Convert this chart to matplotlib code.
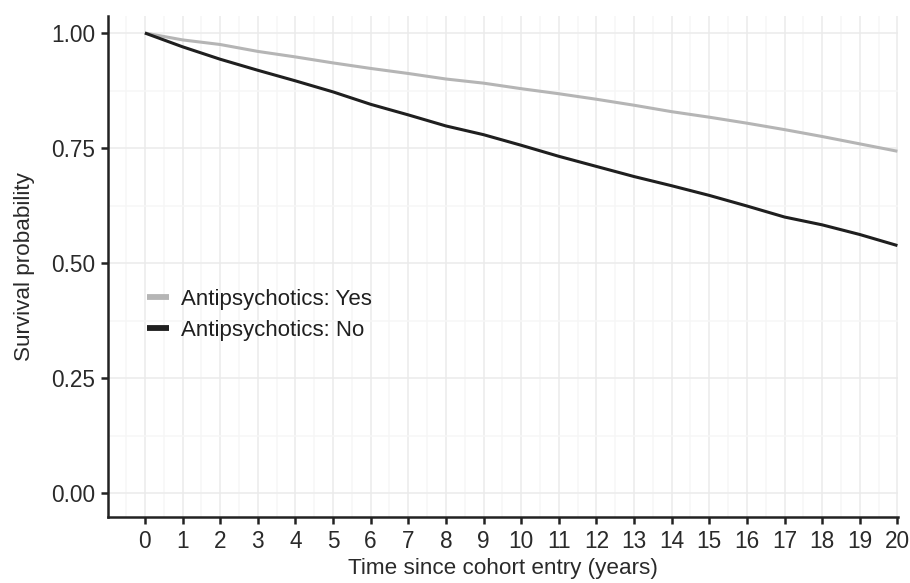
import numpy as np
import matplotlib
matplotlib.use('Agg')
import matplotlib.pyplot as plt
from matplotlib.ticker import MultipleLocator

# Survival estimates, one per year
years = [0, 1, 2, 3, 4, 5, 6, 7, 8, 9, 10, 11, 12, 13, 14, 15, 16, 17, 18, 19, 20]
surv_yes = [1.000, 0.985, 0.975, 0.960, 0.948, 0.935, 0.923, 0.912, 0.900, 0.891,
            0.879, 0.868, 0.856, 0.843, 0.829, 0.817, 0.804, 0.790, 0.775, 0.759, 0.743]
surv_no = [1.000, 0.970, 0.943, 0.919, 0.896, 0.872, 0.845, 0.822, 0.798, 0.779,
           0.756, 0.732, 0.710, 0.688, 0.668, 0.647, 0.624, 0.600, 0.583, 0.562, 0.538]

labels = ["Antipsychotics: Yes", "Antipsychotics: No"]
colors = ["#b5b5b5", "#1f1f1f"]

plt.rcParams['font.family'] = ['Liberation Sans', 'DejaVu Sans']

fig = plt.figure(figsize=(9.1, 5.83), dpi=100)
ax = fig.add_axes([0.1187, 0.1132, 0.8683, 0.8594])

ax.plot(years, surv_yes, color=colors[0], lw=2.2, label=labels[0], solid_capstyle='butt')
ax.plot(years, surv_no, color=colors[1], lw=2.2, label=labels[1], solid_capstyle='butt')

ax.set_xlim(-0.98, 20.02)
ax.set_ylim(-0.052, 1.037)

ax.xaxis.set_major_locator(MultipleLocator(1))
ax.xaxis.set_minor_locator(MultipleLocator(0.5))
ax.set_yticks([0, 0.25, 0.5, 0.75, 1.0])
ax.set_yticklabels(["0.00", "0.25", "0.50", "0.75", "1.00"])
ax.yaxis.set_minor_locator(MultipleLocator(0.125))

ax.grid(which='major', color='#ebebeb', lw=1.1)
ax.grid(which='minor', color='#f6f6f6', lw=1.1)
ax.set_axisbelow(True)

for side in ['top', 'right']:
    ax.spines[side].set_visible(False)
for side in ['left', 'bottom']:
    ax.spines[side].set_color('#222222')
    ax.spines[side].set_linewidth(1.8)

ax.tick_params(which='major', length=5, width=1.8, color='#222222',
               labelsize=16.3, labelcolor='#2a2a2a', pad=4)
ax.tick_params(which='minor', length=0)

ax.set_xlabel("Time since cohort entry (years)", fontsize=16.2, color='#2a2a2a', labelpad=4)
ax.set_ylabel("Survival probability", fontsize=16.2, color='#2a2a2a', labelpad=12)

leg = ax.legend(loc='center left', bbox_to_anchor=(0.024, 0.403), frameon=False,
                fontsize=16, handlelength=1.0, handletextpad=0.55, labelspacing=0.45,
                labelcolor='#1f1f1f')
for line in leg.get_lines():
    line.set_linewidth(4.2)

fig.savefig("out.png", dpi=100, facecolor='white')
